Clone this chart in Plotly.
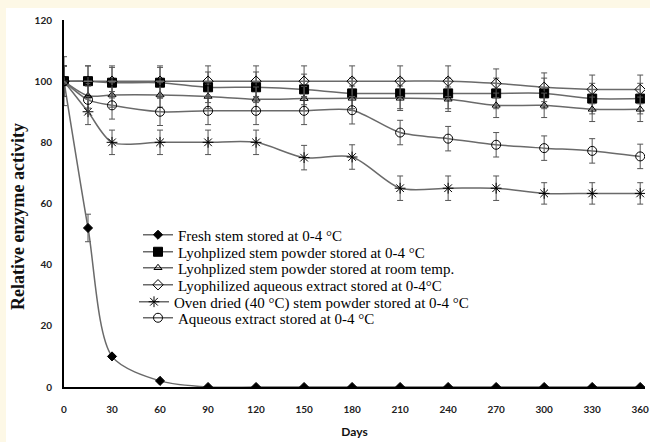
import plotly.graph_objects as go

days = [0, 15, 30, 60, 90, 120, 150, 180, 210, 240, 270, 300, 330, 360]

fresh = [100, 52, 10, 2, 0, 0, 0, 0, 0, 0, 0, 0, 0, 0]
fresh_err = [8, 4.5, 0, 0, 0, 0, 0, 0, 0, 0, 0, 0, 0, 0]

lyo_stem_cold = [100, 100, 99.5, 99.5, 98, 98, 97.3, 96, 96, 96, 96, 96, 94.3, 94.3]
lyo_stem_cold_err = [5, 5, 5, 5, 5, 5, 5, 5, 5, 5, 5, 5, 5, 5]

lyo_stem_room = [100, 95.2, 95.5, 95.5, 95, 94.1, 94.3, 94.4, 94.4, 94.1, 92.1, 92.1, 90.8, 90.8]
lyo_stem_room_err = [5, 4, 4, 4, 4, 4, 4, 4, 4, 4, 4, 4, 4, 4]

lyo_extract = [100, 100, 100, 100, 100, 100, 100, 100, 100, 100, 99.3, 98, 97.3, 97.3]
lyo_extract_err = [5, 5, 5, 5, 5, 5, 5, 5, 5, 5, 4.7, 4.7, 4.7, 4.7]

oven_dried = [100, 90, 80, 80, 80, 80, 75, 75.2, 65, 65, 65, 63.3, 63.3, 63.3]
oven_dried_err = [5, 4.2, 4, 4, 4, 4, 4, 4, 4, 4, 4, 3.5, 3.5, 3.5]

aq_extract = [100, 93.9, 92.1, 90, 90.3, 90.3, 90.3, 90.5, 83.2, 81.2, 79.2, 78.1, 77.2, 75.4]
aq_extract_err = [5, 4.5, 4.5, 4.5, 4.5, 4.5, 4.5, 4.5, 4, 4, 4, 4, 4, 4]

names = [
    "Fresh stem stored at 0-4 °C",
    "Lyohplized stem powder stored at 0-4 °C",
    "Lyohplized stem powder stored at room temp.",
    "Lyophilized aqueous extract stored at 0-4°C",
    "Oven dried (40 °C) stem powder stored at 0-4 °C",
    "Aqueous extract stored at 0-4 °C",
]
series = [fresh, lyo_stem_cold, lyo_stem_room, lyo_extract, oven_dried, aq_extract]
errors = [fresh_err, lyo_stem_cold_err, lyo_stem_room_err, lyo_extract_err, oven_dried_err, aq_extract_err]
symbols = ["diamond", "square", "triangle-up-open", "diamond-open", "asterisk-open", "circle-open"]
sizes = [7, 9, 7, 8, 9, 9]

x_ticks = [0, 30, 60, 90, 120, 150, 180, 210, 240, 270, 300, 330, 360]
y_ticks = [0, 20, 40, 60, 80, 100, 120]

W, H = 650, 442
ml, mr, mt, mb = 64, 5, 20, 55
pw, ph = W - ml - mr, H - mt - mb

# legend entry placement (pixels): text start x, row centre y
leg_text_x = [178, 178, 178, 178, 174, 178]
leg_row_y = [235, 252, 268, 285, 302, 318]

fig = go.Figure()
legend_layouts = {}
for i, (name, ys, err, sym, sz) in enumerate(zip(names, series, errors, symbols, sizes)):
    key = "legend" if i == 0 else f"legend{i + 1}"
    fig.add_trace(go.Scatter(
        x=days, y=ys, name=name, mode="lines+markers", legend=key,
        line=dict(color="#6a6a6a", width=1.5, shape="spline", smoothing=0.8),
        marker=dict(symbol=sym, size=sz, color="black",
                    line=dict(color="black", width=1)),
        error_y=dict(type="data", array=err, visible=True,
                     color="#555555", thickness=1, width=3),
    ))
    legend_layouts[key] = dict(
        x=(leg_text_x[i] - 40 - ml) / pw, y=(mt + ph - leg_row_y[i]) / ph,
        xanchor="left", yanchor="middle",
        bgcolor="rgba(0,0,0,0)", borderwidth=0,
        font=dict(family="Liberation Serif", size=15, color="black"),
        itemwidth=30,
    )

fig.update_layout(
    width=W, height=H,
    margin=dict(l=ml, r=mr, t=mt, b=mb, autoexpand=False),
    paper_bgcolor="#fdf8e6",
    plot_bgcolor="white",
    showlegend=True,
    shapes=[dict(
        type="rect", xref="paper", yref="paper", layer="below",
        x0=(6 - ml) / pw, x1=(W - ml) / pw + 0.01,
        y0=-(mb) / ph - 0.01, y1=(H - mb - 8) / ph,
        fillcolor="white", line=dict(width=0),
    )],
    annotations=[dict(
        text="Relative enzyme activity", textangle=-90,
        xref="paper", yref="paper", x=(18 - ml) / pw, y=(mt + ph - 217) / ph,
        xanchor="center", yanchor="middle", showarrow=False,
        font=dict(family="Liberation Serif", size=18, color="#111", weight="bold"),
    )],
    **legend_layouts,
)

fig.update_xaxes(
    range=[0, 363], tickvals=x_ticks, ticktext=[str(v) for v in x_ticks],
    automargin=False,
    showgrid=False, zeroline=False, showline=True, linecolor="black", linewidth=2,
    ticks="", ticklabelstandoff=12,
    tickfont=dict(family="Lato", size=10, color="#222", weight="bold"),
    title=dict(text="Days", font=dict(family="Lato", size=12, color="#111", weight="bold"), standoff=14),
)
fig.update_yaxes(
    range=[0, 120], tickvals=y_ticks, ticktext=[str(v) for v in y_ticks],
    automargin=False,
    showgrid=False, zeroline=False, showline=True, linecolor="black", linewidth=2,
    ticks="", ticklabelstandoff=8,
    tickfont=dict(family="Lato", size=10, color="#222", weight="bold"),
)

fig.write_html("out.html", config={"displayModeBar": False},
               post_script="document.body.style.margin='0';")
